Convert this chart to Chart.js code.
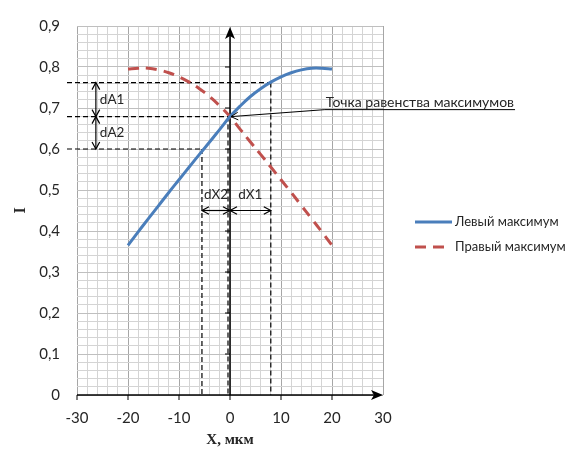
<!DOCTYPE html>
<html>
<head>
<meta charset="utf-8">
<script src="https://cdn.jsdelivr.net/npm/chart.js@4.4.0/dist/chart.umd.min.js"></script>
<style>
  html, body { margin: 0; padding: 0; background: #fff; }
  #wrap { width: 565px; height: 450px; }
</style>
</head>
<body>
<div id="wrap"><canvas id="grafik" width="565" height="450"></canvas></div>
<script>
// данные кривых (X, мкм)
const xValues = [-20, -18, -16, -14, -12, -10, -8, -6, -4, -2, 0, 2, 4, 6, 8, 10, 12, 14, 16, 18, 20];
const leftMax = [0.365, 0.398, 0.430, 0.462, 0.494, 0.525, 0.556, 0.587, 0.617, 0.648, 0.679, 0.705, 0.728, 0.747, 0.763, 0.776, 0.786, 0.793, 0.797, 0.797, 0.795];
const rightMax = [0.795, 0.797, 0.797, 0.793, 0.786, 0.776, 0.763, 0.747, 0.728, 0.705, 0.679, 0.648, 0.617, 0.587, 0.556, 0.525, 0.494, 0.462, 0.430, 0.398, 0.365];

const xTickLabels = ['-30', '-20', '-10', '0', '10', '20', '30'];
const yTickLabels = ['0', '0,1', '0,2', '0,3', '0,4', '0,5', '0,6', '0,7', '0,8', '0,9'];

const seriesNames = ['Левый максимум', 'Правый максимум'];
const calloutText = 'Точка равенства максимумов';

// построения на графике
const crossPt = [0, 0.679];     // точка равенства
const dx1Pt = [8, 0.762];
const dx2Pt = [-5.5, 0.6];
const dAx = -26.3;              // где стоят стрелки dA1, dA2
const dXy = 0.45;               // где стоят стрелки dX1, dX2
const calloutPt = [18.6, 0.696];

const blue = '#4a7ebb';
const red = '#c0504d';
const sans = 'Lato';
const serif = 'Liberation Serif';

function seg(ctx, x1, y1, x2, y2) {
    ctx.beginPath();
    ctx.moveTo(x1, y1);
    ctx.lineTo(x2, y2);
    ctx.stroke();
}

function head(ctx, tx, ty, ang, len, spread) {
    ctx.beginPath();
    ctx.moveTo(tx - len * Math.cos(ang - spread), ty - len * Math.sin(ang - spread));
    ctx.lineTo(tx, ty);
    ctx.lineTo(tx - len * Math.cos(ang + spread), ty - len * Math.sin(ang + spread));
    ctx.stroke();
}

function dblArrow(ctx, x1, y1, x2, y2) {
    seg(ctx, x1, y1, x2, y2);
    const ang = Math.atan2(y2 - y1, x2 - x1);
    head(ctx, x2, y2, ang, 8, 0.5);
    head(ctx, x1, y1, ang + Math.PI, 8, 0.5);
}

function stealth(ctx, tx, ty, ang) {
    const L = 12, W = 5, N = 3;
    const c = Math.cos(ang), s = Math.sin(ang);
    ctx.beginPath();
    ctx.moveTo(tx, ty);
    ctx.lineTo(tx - L * c + W * s, ty - L * s - W * c);
    ctx.lineTo(tx - (L - N) * c, ty - (L - N) * s);
    ctx.lineTo(tx - L * c - W * s, ty - L * s + W * c);
    ctx.closePath();
    ctx.fill();
}

const schema = {
    id: 'schema',
    beforeDatasetsDraw(chart) {
        const {ctx, chartArea: a, scales: {x, y}} = chart;
        const px = v => x.getPixelForValue(v);
        const py = v => y.getPixelForValue(v);
        ctx.save();

        // пунктирные линии
        ctx.strokeStyle = '#000';
        ctx.lineWidth = 1.2;
        ctx.setLineDash([5, 3]);
        seg(ctx, a.left - 10, py(dx1Pt[1]), px(dx1Pt[0]), py(dx1Pt[1]));
        seg(ctx, a.left - 10, py(crossPt[1]), px(crossPt[0]), py(crossPt[1]));
        seg(ctx, a.left - 10, py(dx2Pt[1]), px(dx2Pt[0]), py(dx2Pt[1]));
        seg(ctx, px(dx1Pt[0]), py(dx1Pt[1]), px(dx1Pt[0]), a.bottom);
        seg(ctx, px(dx2Pt[0]), py(dx2Pt[1]), px(dx2Pt[0]), a.bottom);
        seg(ctx, px(crossPt[0]) - 2, py(crossPt[1]), px(crossPt[0]) - 2, a.bottom);
        ctx.setLineDash([]);

        // оси со стрелками
        ctx.lineWidth = 1.5;
        ctx.fillStyle = '#000';
        seg(ctx, px(0), a.bottom, px(0), a.top + 4);
        stealth(ctx, px(0), a.top + 1, -Math.PI / 2);
        seg(ctx, a.left, a.bottom, a.right - 4, a.bottom);
        stealth(ctx, a.right, a.bottom, 0);
        ctx.lineWidth = 1;
        for (let i = 1; i < yTickLabels.length - 1; i++) {
            seg(ctx, px(0) - 5, py(i / 10), px(0), py(i / 10));
        }
        for (let i = 0; i < xTickLabels.length - 1; i++) {
            const v = Number(xTickLabels[i]);
            seg(ctx, px(v), a.bottom, px(v), a.bottom + 5);
        }

        // стрелки dA и dX
        ctx.lineWidth = 1.2;
        dblArrow(ctx, px(dAx), py(dx1Pt[1]), px(dAx), py(crossPt[1]));
        dblArrow(ctx, px(dAx), py(crossPt[1]), px(dAx), py(dx2Pt[1]));
        dblArrow(ctx, px(dx2Pt[0]), py(dXy), px(crossPt[0]), py(dXy));
        dblArrow(ctx, px(crossPt[0]), py(dXy), px(dx1Pt[0]), py(dXy));

        ctx.fillStyle = '#262626';
        ctx.font = '13.5px ' + sans;
        ctx.textBaseline = 'middle';
        ctx.textAlign = 'left';
        ctx.fillText('dA1', px(dAx) + 4, (py(dx1Pt[1]) + py(crossPt[1])) / 2);
        ctx.fillText('dA2', px(dAx) + 4, (py(crossPt[1]) + py(dx2Pt[1])) / 2);
        ctx.textAlign = 'center';
        ctx.fillText('dX2', (px(dx2Pt[0]) + px(crossPt[0])) / 2, py(dXy) - 16);
        ctx.fillText('dX1', (px(crossPt[0]) + px(dx1Pt[0])) / 2, py(dXy) - 16);
        ctx.restore();
    },
    afterDraw(chart) {
        const {ctx, scales: {x, y}} = chart;
        const px = v => x.getPixelForValue(v);
        const py = v => y.getPixelForValue(v);
        ctx.save();

        // выноска к точке равенства
        ctx.font = '14px ' + sans;
        const w = ctx.measureText(calloutText).width;
        const cx = px(calloutPt[0]), cy = py(calloutPt[1]);
        ctx.strokeStyle = '#000';
        ctx.lineWidth = 1;
        seg(ctx, px(crossPt[0]) + 1, py(crossPt[1]), cx, cy);
        seg(ctx, cx, cy, cx + w + 2, cy);
        head(ctx, px(crossPt[0]) + 1, py(crossPt[1]), Math.atan2(py(crossPt[1]) - cy, px(crossPt[0]) - cx), 8, 0.5);
        ctx.fillStyle = '#262626';
        ctx.textAlign = 'left';
        ctx.textBaseline = 'alphabetic';
        ctx.fillText(calloutText, cx + 1, cy - 3);

        // легенда
        const lx = 415, ly = 222, gap = 25;
        ctx.lineWidth = 3;
        ctx.strokeStyle = blue;
        seg(ctx, lx, ly, lx + 37, ly);
        ctx.strokeStyle = red;
        ctx.setLineDash([11, 7]);
        seg(ctx, lx, ly + gap, lx + 30, ly + gap);
        ctx.setLineDash([]);
        ctx.font = '13px ' + sans;
        ctx.textBaseline = 'middle';
        ctx.fillText(seriesNames[0], lx + 40, ly);
        ctx.fillText(seriesNames[1], lx + 40, ly + gap);
        ctx.restore();
    }
};

const toPoints = arr => arr.map((v, i) => ({x: xValues[i], y: v}));

const grafik = new Chart(document.getElementById('grafik'), {
    type: 'line',
    data: {
        datasets: [
            {
                label: seriesNames[0],
                data: toPoints(leftMax),
                borderColor: blue,
                borderWidth: 3,
                pointRadius: 0,
                tension: 0.4,
                fill: false
            },
            {
                label: seriesNames[1],
                data: toPoints(rightMax),
                borderColor: red,
                borderWidth: 3,
                borderDash: [11, 7],
                pointRadius: 0,
                tension: 0.4,
                fill: false
            }
        ]
    },
    options: {
        responsive: false,
        animation: false,
        devicePixelRatio: 1,
        layout: {
            padding: {left: 0, right: 182, top: 17, bottom: 0}
        },
        plugins: {
            legend: {display: false},
            tooltip: {enabled: false}
        },
        scales: {
            x: {
                type: 'linear',
                min: -30,
                max: 30,
                afterFit: s => { s.height = 55; },
                border: {display: false},
                grid: {
                    drawTicks: false,
                    lineWidth: 1,
                    color: c => (c.tick && c.tick.value % 10 === 0) ? '#a6a6a6' : '#d4d4d4'
                },
                ticks: {
                    stepSize: 2,
                    autoSkip: false,
                    maxRotation: 0,
                    padding: 14,
                    color: '#262626',
                    font: {family: sans, size: 15},
                    callback: v => v % 10 === 0 ? xTickLabels[(v + 30) / 10] : ''
                },
                title: {
                    display: true,
                    text: 'X, мкм',
                    color: '#262626',
                    font: {family: serif, size: 15, weight: 'bold'},
                    padding: {top: 0, bottom: 1}
                }
            },
            y: {
                min: 0,
                max: 0.9,
                afterFit: s => { s.width = 77; },
                border: {display: false},
                grid: {
                    drawTicks: false,
                    lineWidth: 1,
                    color: c => (c.tick && Math.round(c.tick.value * 100) % 10 === 0) ? '#bfbfbf' : '#d4d4d4'
                },
                ticks: {
                    stepSize: 0.02,
                    autoSkip: false,
                    padding: 17,
                    color: '#262626',
                    font: {family: sans, size: 15},
                    callback: v => Math.round(v * 100) % 10 === 0 ? yTickLabels[Math.round(v * 10)] : ''
                },
                title: {
                    display: true,
                    text: 'I',
                    color: '#262626',
                    font: {family: serif, size: 16, weight: 'bold'},
                    padding: {top: 11, bottom: 0}
                }
            }
        }
    },
    plugins: [schema]
});
</script>
</body>
</html>
